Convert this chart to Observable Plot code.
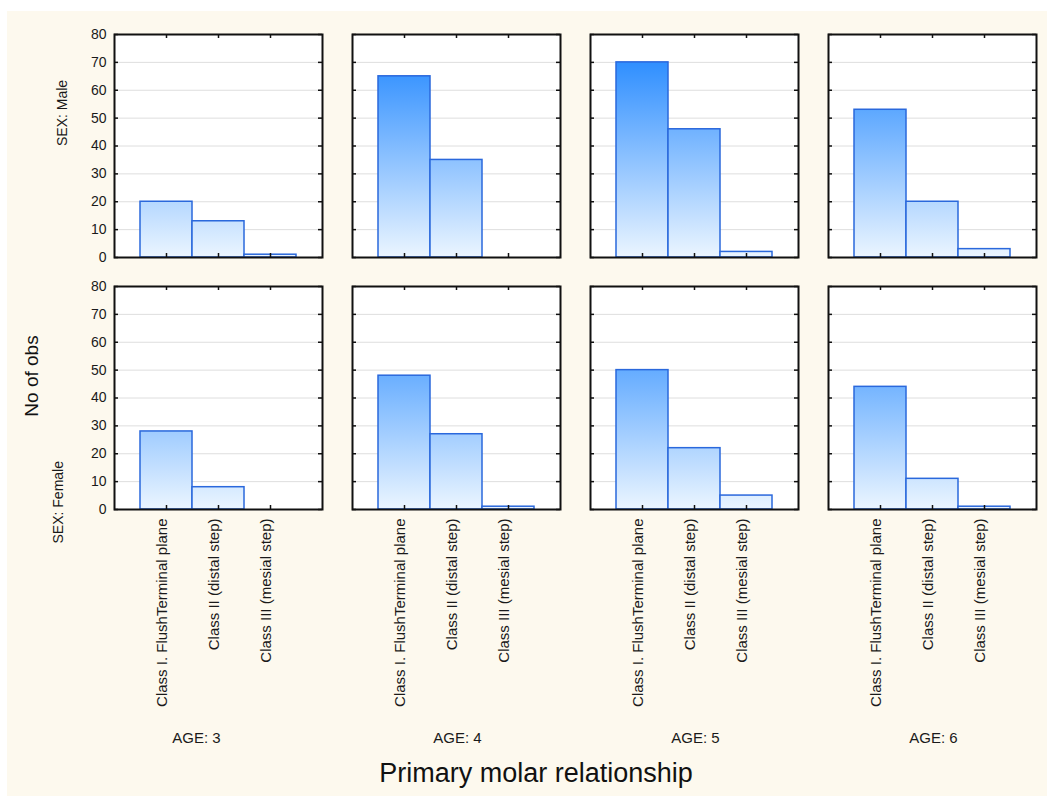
<!DOCTYPE html>
<html>
<head>
<meta charset="utf-8">
<script src="https://cdn.jsdelivr.net/npm/d3@7"></script>
<script src="https://cdn.jsdelivr.net/npm/@observablehq/plot@0.6"></script>
<style>
  body { margin: 0; background: #ffffff; }
  #chart { position: absolute; left: 7px; top: 11px; width: 1040px; height: 785px; background: #fdf9ee; }
  #chart svg { display: block; }
</style>
</head>
<body>
<div id="chart"></div>
<script>
// Counts of observations by primary molar relationship, per age and sex
const ages = ["3", "4", "5", "6"];
const sexes = ["Male", "Female"];
const relationships = ["Class I. FlushTerminal plane", "Class II (distal step)", "Class III (mesial step)"];
const maleCounts = [
  [20, 13, 1],   // AGE 3
  [65, 35, 0],   // AGE 4
  [70, 46, 2],   // AGE 5
  [53, 20, 3]    // AGE 6
];
const femaleCounts = [
  [28, 8, 0],
  [48, 27, 1],
  [50, 22, 5],
  [44, 11, 1]
];
const yTicks = [0, 10, 20, 30, 40, 50, 60, 70, 80];

const countsBySex = {Male: maleCounts, Female: femaleCounts};
const rows = sexes.flatMap(sex => ages.flatMap((age, i) =>
  relationships.map((rel, j) => ({sex, age, rel, count: countsBySex[sex][i][j]}))));

const yLabelRows = sexes.flatMap(sex => yTicks.map(v => ({sex, age: ages[0], v})));
const classLabelRows = ages.flatMap(age => relationships.map(rel => ({sex: "Female", age, rel})));

const FONT = "'Liberation Sans', Arial, sans-serif";
const INK = "#1a1a1a";
const W = 1040, H = 785;
const panelW = 208, panelH = 223;

const chart = Plot.plot({
  width: W,
  height: H,
  marginLeft: 107,
  marginRight: 11,
  marginTop: 23,
  marginBottom: 287,
  style: {background: "transparent", fontFamily: FONT, color: INK, overflow: "visible"},
  fx: {domain: ages, paddingInner: 30 / 238, paddingOuter: 0, round: false, axis: null, label: null},
  fy: {domain: sexes, paddingInner: 29 / 252, paddingOuter: 0, round: false, axis: null, label: null},
  x: {domain: relationships, paddingInner: 0, paddingOuter: 0.5, round: false, axis: null},
  y: {domain: [0, 80], axis: null},
  marks: [
    // white plotting area
    Plot.frame({fill: "#ffffff"}),
    // horizontal gridlines
    Plot.ruleY(yTicks.slice(1, -1), {stroke: "#dedede", strokeWidth: 1}),
    // bars
    Plot.barY(rows, {
      fx: "age", fy: "sex", x: "rel", y: "count",
      fill: "url(#barGradient)", stroke: "#2a68dc", strokeWidth: 1.5, inset: 0
    }),
    // inward tick marks on all four sides
    Plot.tickY(yTicks, {y: d => d, insetRight: panelW - 4, stroke: "#111", strokeWidth: 1.5}),
    Plot.tickY(yTicks, {y: d => d, insetLeft: panelW - 4, stroke: "#111", strokeWidth: 1.5}),
    Plot.tickX(relationships, {x: d => d, insetBottom: panelH - 4, stroke: "#111", strokeWidth: 1.5}),
    Plot.tickX(relationships, {x: d => d, insetTop: panelH - 4, stroke: "#111", strokeWidth: 1.5}),
    // panel frame
    Plot.frame({stroke: "#111", strokeWidth: 2}),
    // y tick labels on the left column
    Plot.text(yLabelRows, {
      fx: "age", fy: "sex", y: "v", text: d => String(d.v),
      frameAnchor: "left", dx: -8, textAnchor: "end", fontSize: 14, fill: INK
    }),
    // row labels
    Plot.text(["Male"], {
      fx: () => ages[0], fy: d => d, text: d => `SEX: ${d}`,
      frameAnchor: "left", dx: -52, rotate: -90, fontSize: 14, fill: INK
    }),
    Plot.text(["Female"], {
      fx: () => ages[0], fy: d => d, text: d => `SEX: ${d}`,
      frameAnchor: "bottom-left", dx: -52, dy: 34, rotate: -90, textAnchor: "start", fontSize: 14, fill: INK
    }),
    // category labels under the bottom row
    Plot.text(classLabelRows, {
      fx: "age", fy: "sex", x: "rel", text: "rel",
      frameAnchor: "bottom", dy: 9, rotate: -90, textAnchor: "end", fontSize: 15, fill: INK
    }),
    // column labels (the first one sits a little left of its panel centre)
    Plot.text(ages.slice(0, 1), {
      fx: d => d, fy: () => "Female", text: d => `AGE: ${d}`,
      frameAnchor: "bottom", dx: -22, dy: 233, fontSize: 15, fill: INK
    }),
    Plot.text(ages.slice(1), {
      fx: d => d, fy: () => "Female", text: d => `AGE: ${d}`,
      frameAnchor: "bottom", dx: 1, dy: 233, fontSize: 15, fill: INK
    })
  ]
});

document.getElementById("chart").append(chart);

// Vertical gradient shared by all bars, spanning the 0–80 range of each panel
const yScale = chart.scale("y");
const [r0, r1] = yScale.range;
const [d0, d1] = yScale.domain;
const yAt = v => r0 + (v - d0) / (d1 - d0) * (r1 - r0);
const svg = d3.select(chart);
const grad = svg.insert("defs", ":first-child")
  .append("linearGradient")
  .attr("id", "barGradient")
  .attr("gradientUnits", "userSpaceOnUse")
  .attr("x1", 0).attr("x2", 0)
  .attr("y1", yAt(80)).attr("y2", yAt(0));
grad.append("stop").attr("offset", "0%").attr("stop-color", "#1480ff");
grad.append("stop").attr("offset", "100%").attr("stop-color", "#ebf5ff");

// Shared axis titles
svg.append("text")
  .attr("transform", `translate(26,365) rotate(-90)`)
  .attr("text-anchor", "middle")
  .attr("dominant-baseline", "middle")
  .attr("font-family", FONT)
  .attr("font-size", 19)
  .attr("fill", "#111")
  .text("No of obs");
svg.append("text")
  .attr("x", 529).attr("y", 764)
  .attr("text-anchor", "middle")
  .attr("dominant-baseline", "middle")
  .attr("font-family", FONT)
  .attr("font-size", 27)
  .attr("fill", "#111")
  .text("Primary molar relationship");
</script>
</body>
</html>
